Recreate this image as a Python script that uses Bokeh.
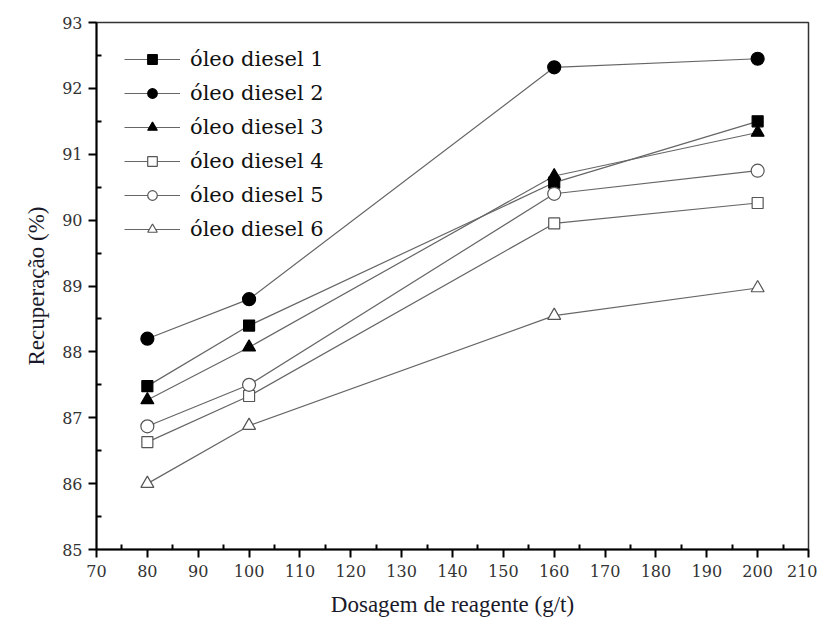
from bokeh.plotting import figure
from bokeh.models import FixedTicker, Range1d, Legend
from bokeh.embed import file_html
from bokeh.resources import INLINE

dosagem = [80, 100, 160, 200]
diesel1 = [87.48, 88.40, 90.57, 91.50]
diesel2 = [88.20, 88.80, 92.32, 92.45]
diesel3 = [87.27, 88.07, 90.67, 91.33]
diesel4 = [86.63, 87.33, 89.95, 90.26]
diesel5 = [86.87, 87.50, 90.40, 90.75]
diesel6 = [86.00, 86.88, 88.55, 88.97]

labels = ["óleo diesel 1", "óleo diesel 2", "óleo diesel 3",
          "óleo diesel 4", "óleo diesel 5", "óleo diesel 6"]
series = [diesel1, diesel2, diesel3, diesel4, diesel5, diesel6]
markers = ["square", "circle", "triangle", "square", "circle", "triangle"]
filled = [True, True, True, False, False, False]
sizes = [11, 13, 13, 11, 13, 13]

x_ticks = list(range(70, 211, 10))
x_minor = list(range(75, 210, 10))
y_ticks = list(range(85, 94))
y_minor = [85.5 + i for i in range(8)]

TITLE_FONT = "Liberation Serif"
TEXT_FONT = "DejaVu Serif"

p = figure(width=817, height=621, output_backend="svg", toolbar_location=None,
           x_range=Range1d(70, 210), y_range=Range1d(85, 93),
           min_border_left=96, min_border_right=9, min_border_top=22,
           min_border_bottom=72)

p.xgrid.visible = False
p.ygrid.visible = False
p.outline_line_color = "#333333"
p.outline_line_width = 1.5
p.background_fill_color = "white"
p.border_fill_color = "white"

p.xaxis.ticker = FixedTicker(ticks=x_ticks, minor_ticks=x_minor)
p.yaxis.ticker = FixedTicker(ticks=y_ticks, minor_ticks=y_minor)

for ax in (p.xaxis[0], p.yaxis[0]):
    ax.axis_line_color = "black"
    ax.axis_line_width = 2
    ax.major_tick_line_color = "black"
    ax.major_tick_line_width = 2
    ax.major_tick_out = 8
    ax.major_tick_in = 0
    ax.minor_tick_line_color = "black"
    ax.minor_tick_line_width = 2
    ax.minor_tick_in = 5
    ax.minor_tick_out = 0
    ax.major_label_text_font = TEXT_FONT
    ax.major_label_text_font_size = "16px"
    ax.major_label_text_color = "#333333"
    ax.axis_label_text_font = TITLE_FONT
    ax.axis_label_text_font_size = "23px"
    ax.axis_label_text_font_style = "normal"
    ax.axis_label_text_color = "#1a1a2a"

p.xaxis.axis_label = "Dosagem de reagente (g/t)"
p.yaxis.axis_label = "Recuperação (%)"
p.xaxis.major_label_standoff = 7
p.yaxis.major_label_standoff = 6
p.xaxis.axis_label_standoff = 12
p.yaxis.axis_label_standoff = 10

items = []
for lab, ys, mk, fl, sz in zip(labels, series, markers, filled, sizes):
    r_line = p.line(dosagem, ys, line_color="#666666", line_width=1.2)
    r_pt = p.scatter(dosagem, ys, marker=mk, size=sz,
                     fill_color="black" if fl else "white",
                     line_color="black" if fl else "#555555",
                     line_width=1.2)
    items.append((lab, [r_line, r_pt]))

legend = Legend(items=items, location="top_left")
legend.border_line_color = None
legend.background_fill_alpha = 0
legend.label_text_font = TEXT_FONT
legend.label_text_font_size = "21px"
legend.label_text_color = "#111111"
legend.glyph_width = 56
legend.glyph_height = 24
legend.label_height = 24
legend.spacing = 10
legend.label_standoff = 10
legend.margin = 0
legend.padding = 0
legend.location = (28, 527 - 25 - 6 * 24 - 5 * 10)
p.add_layout(legend, "center")

open("out.html", "w").write(file_html(p, INLINE))
